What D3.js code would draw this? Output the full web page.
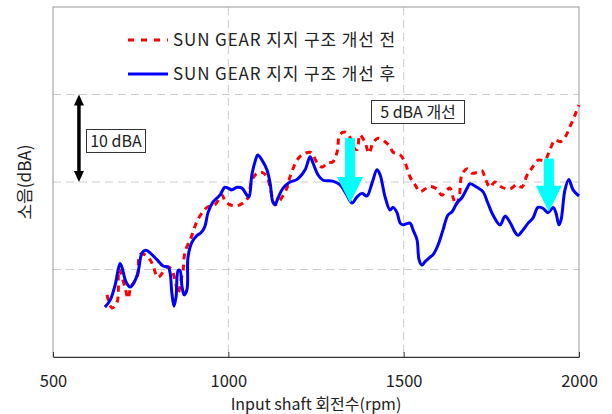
<!DOCTYPE html>
<html>
<head>
<meta charset="utf-8">
<script src="https://cdn.jsdelivr.net/npm/d3@7"></script>
<style>
    body { margin: 0; background: #fff; }
    svg { display: block; }
</style>
</head>
<body>
<script>
/* ========== Data (rpm, dBA) ========== */
// before the sun gear support change (red dashed)
var beforeRpm = [654, 668, 683, 688, 705, 714, 722, 740, 748, 762, 777, 785, 799, 814, 828, 839, 848, 857, 865, 871,
    876, 896, 913, 939, 962, 982, 990, 1005, 1025, 1042, 1056, 1067, 1082, 1096, 1110, 1125, 1133, 1147, 1167, 1176,
    1196, 1210, 1233, 1241, 1253, 1267, 1284, 1298, 1310, 1318, 1333, 1347, 1356, 1367, 1375, 1390, 1401, 1413, 1427, 1447,
    1461, 1470, 1490, 1504, 1518, 1532, 1547, 1561, 1575, 1595, 1609, 1624, 1632, 1641, 1649, 1658, 1666, 1681, 1695, 1709,
    1723, 1732, 1746, 1760, 1780, 1803, 1823, 1837, 1852, 1866, 1883, 1903, 1917, 1932, 1946, 1960, 1974, 1989, 2000];
var beforeDba = [47.1, 45.6, 46.3, 50.0, 48.0, 46.7, 48.0, 49.1, 51.7, 51.7, 51.1, 50.5, 49.1, 49.7, 50.3, 49.9, 48.8, 47.3, 48.8, 49.9,
    51.9, 53.9, 55.7, 57.1, 57.4, 58.5, 57.9, 57.4, 57.3, 57.6, 58.2, 60.2, 61.0, 61.1, 60.6, 58.3, 57.4, 57.9, 59.3, 60.6,
    62.5, 63.1, 63.4, 63.1, 62.2, 61.7, 62.2, 62.3, 63.4, 65.4, 65.7, 65.1, 64.0, 63.7, 65.4, 64.5, 63.3, 64.5, 65.0, 64.6,
    64.0, 63.4, 63.1, 62.2, 60.6, 59.7, 58.9, 59.2, 59.5, 59.2, 58.5, 59.1, 59.3, 58.2, 57.4, 58.2, 60.8, 61.5, 61.0, 61.1,
    61.3, 60.5, 59.4, 60.0, 59.4, 59.2, 59.7, 59.4, 60.8, 61.6, 62.5, 62.5, 63.7, 64.8, 64.6, 65.1, 66.3, 67.7, 68.8];

// after the change (blue solid)
var afterRpm = [648, 663, 677, 691, 697, 708, 720, 731, 742, 754, 765, 777, 797, 814, 828, 834, 839, 845, 851, 857,
    862, 868, 874, 882, 885, 896, 911, 922, 933, 942, 956, 976, 990, 999, 1010, 1025, 1039, 1053, 1059, 1067,
    1076, 1084, 1096, 1110, 1119, 1127, 1133, 1142, 1156, 1176, 1196, 1219, 1233, 1241, 1256, 1270, 1298, 1318, 1338, 1353,
    1367, 1381, 1395, 1410, 1424, 1433, 1447, 1461, 1470, 1481, 1490, 1498, 1518, 1527, 1538, 1544, 1552, 1561, 1575, 1584,
    1598, 1612, 1626, 1638, 1652, 1666, 1681, 1689, 1709, 1726, 1740, 1755, 1775, 1789, 1803, 1817, 1826, 1840, 1855, 1869,
    1883, 1897, 1912, 1926, 1934, 1943, 1949, 1960, 1971, 1983, 2000];
var afterDba = [45.7, 46.5, 48.2, 50.7, 50.2, 48.6, 48.0, 48.5, 49.6, 51.9, 52.2, 51.9, 51.1, 50.4, 50.3, 49.6, 47.3, 45.8, 46.9, 49.9,
    49.9, 48.0, 47.1, 47.7, 51.4, 53.1, 53.9, 54.2, 54.9, 56.5, 57.7, 58.5, 59.4, 59.3, 59.1, 59.4, 59.3, 58.5, 58.3, 60.8,
    62.3, 63.1, 62.5, 61.4, 59.9, 57.7, 57.4, 58.2, 59.3, 60.0, 60.3, 61.4, 62.9, 62.2, 60.8, 60.2, 60.1, 59.7, 58.5, 57.6,
    58.3, 58.7, 58.4, 59.9, 61.4, 60.8, 58.3, 56.8, 57.1, 56.5, 55.3, 55.1, 55.3, 54.5, 53.4, 51.1, 50.5, 50.9, 51.4, 51.7,
    52.8, 54.5, 56.2, 56.6, 57.6, 58.2, 59.3, 59.8, 59.4, 58.9, 57.6, 56.2, 55.1, 56.1, 55.4, 54.3, 53.9, 54.5, 55.3, 55.9,
    57.1, 57.0, 56.5, 57.1, 56.5, 55.1, 55.7, 59.1, 60.3, 59.1, 58.4];

var seriesNames = ["SUN GEAR 지지 구조 개선 전", "SUN GEAR 지지 구조 개선 후"];
var xTicks = [500, 1000, 1500, 2000];
var xGrid = [1000, 1500];
var yGrid = [50, 60, 70];

// cyan "improvement" arrows
var arrowRpm = [1347, 1914];
var arrowTop = [65.0, 62.7];
var arrowTip = [57.6, 56.6];

// 10 dBA scale marker
var scaleRpm = 574;
var scaleDba = [60, 70];

/* ========= Constants ========= */
var w = 612;
var h = 414;
var plotLeft = 53, plotRight = 579, plotTop = 7, plotBottom = 357;
var redColor = "#ff0000";
var blueColor = "#0000ff";
var cyanColor = "#00ffff";
var gridColor = "#cccccc";
var frameColor = "#9a9a9a";
var textColor = "#222222";
var font = "'Noto Sans CJK KR', 'Noto Sans', sans-serif";

var svg = d3.select("body")
    .append("svg")
    .attr("width", w)
    .attr("height", h);

var xScale = d3.scaleLinear().domain([500, 2000]).range([plotLeft, plotRight]);
var yScale = d3.scaleLinear().domain([40, 80]).range([plotBottom, plotTop]);

/* ========= Grid ========= */
svg.selectAll("line.xgrid")
    .data(xGrid)
    .enter().append("line")
    .attr("class", "xgrid")
    .attr("x1", function (d) { return xScale(d); })
    .attr("x2", function (d) { return xScale(d); })
    .attr("y1", plotTop)
    .attr("y2", plotBottom)
    .attr("stroke", gridColor)
    .attr("stroke-dasharray", "8,5");
svg.selectAll("line.ygrid")
    .data(yGrid)
    .enter().append("line")
    .attr("class", "ygrid")
    .attr("x1", plotLeft)
    .attr("x2", plotRight)
    .attr("y1", function (d) { return yScale(d); })
    .attr("y2", function (d) { return yScale(d); })
    .attr("stroke", gridColor)
    .attr("stroke-dasharray", "8,5");

// frame
svg.append("rect")
    .attr("x", plotLeft)
    .attr("y", plotTop)
    .attr("width", plotRight - plotLeft)
    .attr("height", plotBottom - plotTop)
    .attr("fill", "none")
    .attr("stroke", frameColor);

/* ========= Axis ========= */
var xAxis = svg.append("g")
    .attr("transform", "translate(0," + plotBottom + ")")
    .call(d3.axisBottom(xScale)
        .tickValues(xTicks)
        .tickFormat(d3.format("d"))
        .tickSizeInner(-5)
        .tickSizeOuter(0)
        .tickPadding(18));
xAxis.select(".domain").attr("stroke", "#333");
xAxis.selectAll(".tick line").attr("stroke", "#333");
xAxis.selectAll("text")
    .attr("font-family", font)
    .attr("font-size", "16.5px")
    .attr("fill", textColor);

svg.append("text")
    .attr("x", (plotLeft + plotRight) / 2)
    .attr("y", 410)
    .attr("text-anchor", "middle")
    .attr("font-family", font)
    .attr("font-size", "16px")
    .attr("fill", textColor)
    .text("Input shaft 회전수(rpm)");

svg.append("text")
    .attr("transform", "translate(31," + ((plotTop + plotBottom) / 2) + ") rotate(-90)")
    .attr("text-anchor", "middle")
    .attr("font-family", font)
    .attr("font-size", "17px")
    .attr("fill", textColor)
    .text("소음(dBA)");

/* ========= Lines ========= */
function makeLine(rpms) {
    return d3.line()
        .x(function (d, i) { return xScale(rpms[i]); })
        .y(function (d) { return yScale(d); })
        .curve(d3.curveCatmullRom.alpha(0.5));
}

svg.append("path")
    .datum(beforeDba)
    .attr("fill", "none")
    .attr("stroke", redColor)
    .attr("stroke-width", 3)
    .attr("stroke-dasharray", "6,5")
    .attr("d", makeLine(beforeRpm));

svg.append("path")
    .datum(afterDba)
    .attr("fill", "none")
    .attr("stroke", blueColor)
    .attr("stroke-width", 3)
    .attr("stroke-linejoin", "round")
    .attr("d", makeLine(afterRpm));

/* ========= Cyan arrows ========= */
for (var i = 0; i < arrowRpm.length; i++) {
    var ax = xScale(arrowRpm[i]);
    var ay0 = yScale(arrowTop[i]);
    var ay1 = yScale(arrowTip[i]);
    var headLen = 26, shaft = 5, head = 13;
    var pts = [[ax - shaft, ay0], [ax + shaft, ay0], [ax + shaft, ay1 - headLen], [ax + head, ay1 - headLen],
        [ax, ay1], [ax - head, ay1 - headLen], [ax - shaft, ay1 - headLen]];
    svg.append("path")
        .attr("d", "M" + pts.join("L") + "Z")
        .attr("fill", cyanColor);
}

/* ========= 10 dBA marker ========= */
var sx = xScale(scaleRpm);
var sy0 = yScale(scaleDba[1]);
var sy1 = yScale(scaleDba[0]);
svg.append("line")
    .attr("x1", sx).attr("x2", sx)
    .attr("y1", sy0 + 8).attr("y2", sy1 - 8)
    .attr("stroke", "#000")
    .attr("stroke-width", 3.5);
svg.append("path")
    .attr("d", "M" + sx + "," + sy0 + "L" + (sx + 5) + "," + (sy0 + 11) + "L" + (sx - 5) + "," + (sy0 + 11) + "Z")
    .attr("fill", "#000");
svg.append("path")
    .attr("d", "M" + sx + "," + sy1 + "L" + (sx + 5) + "," + (sy1 - 11) + "L" + (sx - 5) + "," + (sy1 - 11) + "Z")
    .attr("fill", "#000");

/* ========= Label boxes ========= */
function labelBox(x, y, bw, bh, label) {
    svg.append("rect")
        .attr("x", x).attr("y", y)
        .attr("width", bw).attr("height", bh)
        .attr("fill", "#fff")
        .attr("stroke", "#333");
    svg.append("text")
        .attr("x", x + bw / 2)
        .attr("y", y + bh / 2 + 6)
        .attr("text-anchor", "middle")
        .attr("font-family", font)
        .attr("font-size", "16px")
        .attr("fill", textColor)
        .text(label);
}
labelBox(86.5, 129.5, 59, 23, "10 dBA");
labelBox(371.5, 100.5, 93, 23, "5 dBA 개선");

/* ========= Legend ========= */
var legendY = [40, 74];
var legendColors = [redColor, blueColor];
var legendDash = ["6,7", null];
for (var k = 0; k < seriesNames.length; k++) {
    svg.append("line")
        .attr("x1", 128).attr("x2", 168)
        .attr("y1", legendY[k]).attr("y2", legendY[k])
        .attr("stroke", legendColors[k])
        .attr("stroke-width", 3)
        .attr("stroke-dasharray", legendDash[k]);
    svg.append("text")
        .attr("x", 173)
        .attr("y", legendY[k] + 6)
        .attr("font-family", font)
        .attr("font-size", "17px")
        .attr("letter-spacing", "0.9px")
        .attr("fill", textColor)
        .text(seriesNames[k]);
}
</script>
</body>
</html>
